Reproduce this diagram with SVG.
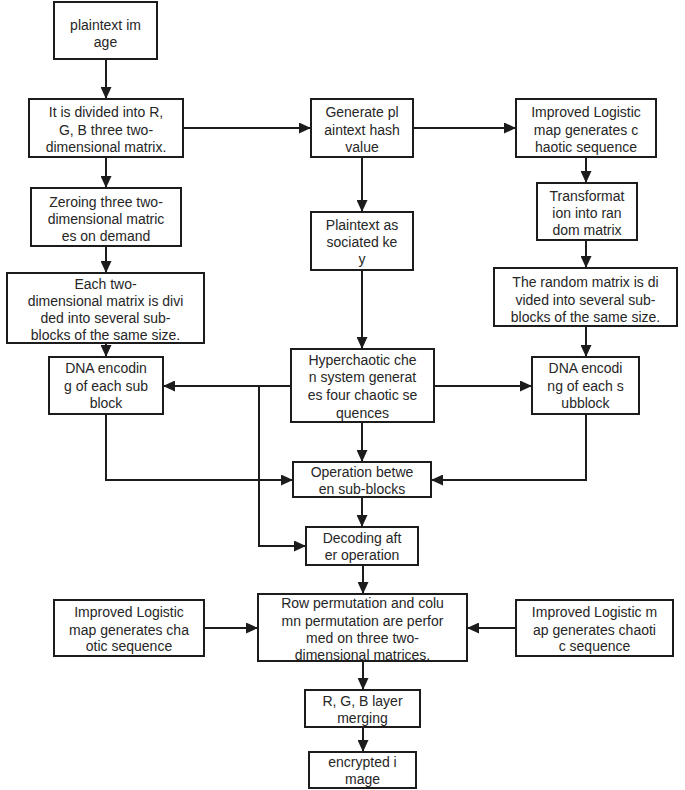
<svg xmlns="http://www.w3.org/2000/svg" width="685" height="790" viewBox="0 0 685 790">
<style>
.box{fill:#fff;stroke:#1c1c1c;stroke-width:2}
.t{font-family:"Liberation Sans","Noto Sans",Arial,sans-serif;font-size:14px;fill:#262626;text-anchor:middle}
.c{fill:none;stroke:#1c1c1c;stroke-width:2}
</style>
<defs>
<marker id="ah" markerWidth="12" markerHeight="11" refX="12" refY="5.5" orient="auto" markerUnits="userSpaceOnUse">
<path d="M0,0 L12,5.5 L0,11 z" fill="#1c1c1c"/>
</marker>
</defs>
<rect width="685" height="790" fill="#fff"/>
<g id="connectors">
<path class="c" d="M106,59 V99" marker-end="url(#ah)"/>
<path class="c" d="M106,157 V188" marker-end="url(#ah)"/>
<path class="c" d="M183,128 H311" marker-end="url(#ah)"/>
<path class="c" d="M413,128 H516" marker-end="url(#ah)"/>
<path class="c" d="M362,157 V212" marker-end="url(#ah)"/>
<path class="c" d="M586,157 V183" marker-end="url(#ah)"/>
<path class="c" d="M586,240 V268" marker-end="url(#ah)"/>
<path class="c" d="M106,246 V273" marker-end="url(#ah)"/>
<path class="c" d="M106,343 V357" marker-end="url(#ah)"/>
<path class="c" d="M362,270 V349" marker-end="url(#ah)"/>
<path class="c" d="M586,326 V357" marker-end="url(#ah)"/>
<path class="c" d="M291,386 H163" marker-end="url(#ah)"/>
<path class="c" d="M434,386 H532" marker-end="url(#ah)"/>
<path class="c" d="M259,386 V546 H306" marker-end="url(#ah)"/>
<path class="c" d="M106,414 V480 H293" marker-end="url(#ah)"/>
<path class="c" d="M586,414 V480 H431" marker-end="url(#ah)"/>
<path class="c" d="M362,422 V462" marker-end="url(#ah)"/>
<path class="c" d="M362,497 V527" marker-end="url(#ah)"/>
<path class="c" d="M363,565 V594" marker-end="url(#ah)"/>
<path class="c" d="M204,628 H258" marker-end="url(#ah)"/>
<path class="c" d="M516,628 H467" marker-end="url(#ah)"/>
<path class="c" d="M363,661 V690" marker-end="url(#ah)"/>
<path class="c" d="M363,727 V752" marker-end="url(#ah)"/>
</g>
<g id="n1"><rect class="box" x="54" y="2" width="103" height="57"/>
<text class="t"><tspan x="105.5" y="30">plaintext im</tspan><tspan x="105.5" y="47">age</tspan></text></g>
<g id="n2"><rect class="box" x="29" y="99" width="154" height="58"/>
<text class="t"><tspan x="106" y="117">It is divided into R,</tspan><tspan x="106" y="135">G, B three two-</tspan><tspan x="106" y="152">dimensional matrix.</tspan></text></g>
<g id="n3"><rect class="box" x="311" y="99" width="102" height="58"/>
<text class="t"><tspan x="362" y="117">Generate pl</tspan><tspan x="362" y="135">aintext hash</tspan><tspan x="362" y="152">value</tspan></text></g>
<g id="n4"><rect class="box" x="516" y="99" width="140" height="58"/>
<text class="t"><tspan x="586" y="117">Improved Logistic</tspan><tspan x="586" y="135">map generates c</tspan><tspan x="586" y="152">haotic sequence</tspan></text></g>
<g id="n5"><rect class="box" x="31" y="188" width="150" height="58"/>
<text class="t"><tspan x="106" y="207">Zeroing three two-</tspan><tspan x="106" y="224">dimensional matric</tspan><tspan x="106" y="241">es on demand</tspan></text></g>
<g id="n6"><rect class="box" x="311" y="212" width="102" height="58"/>
<text class="t"><tspan x="362" y="230">Plaintext as</tspan><tspan x="362" y="247">sociated ke</tspan><tspan x="362" y="264">y</tspan></text></g>
<g id="n7"><rect class="box" x="537" y="183" width="100" height="57"/>
<text class="t"><tspan x="587" y="201">Transformat</tspan><tspan x="587" y="218">ion into ran</tspan><tspan x="587" y="235">dom matrix</tspan></text></g>
<g id="n8"><rect class="box" x="7" y="273" width="197" height="70"/>
<text class="t"><tspan x="105.5" y="289">Each two-</tspan><tspan x="105.5" y="306">dimensional matrix is divi</tspan><tspan x="105.5" y="323">ded into several sub-</tspan><tspan x="105.5" y="340">blocks of the same size.</tspan></text></g>
<g id="n9"><rect class="box" x="494" y="268" width="183" height="58"/>
<text class="t"><tspan x="585.5" y="287">The random matrix is di</tspan><tspan x="585.5" y="305">vided into several sub-</tspan><tspan x="585.5" y="322">blocks of the same size.</tspan></text></g>
<g id="n10"><rect class="box" x="49" y="357" width="114" height="57"/>
<text class="t"><tspan x="106" y="373">DNA encodin</tspan><tspan x="106" y="391">g of each sub</tspan><tspan x="106" y="408">block</tspan></text></g>
<g id="n11"><rect class="box" x="291" y="349" width="143" height="73"/>
<text class="t"><tspan x="362.5" y="365">Hyperchaotic che</tspan><tspan x="362.5" y="382">n system generat</tspan><tspan x="362.5" y="400">es four chaotic se</tspan><tspan x="362.5" y="418">quences</tspan></text></g>
<g id="n12"><rect class="box" x="532" y="357" width="107" height="57"/>
<text class="t"><tspan x="585.5" y="373">DNA encodi</tspan><tspan x="585.5" y="391">ng of each s</tspan><tspan x="585.5" y="408">ubblock</tspan></text></g>
<g id="n13"><rect class="box" x="293" y="462" width="138" height="35"/>
<text class="t"><tspan x="362" y="477">Operation betwe</tspan><tspan x="362" y="494">en sub-blocks</tspan></text></g>
<g id="n14"><rect class="box" x="306" y="527" width="112" height="38"/>
<text class="t"><tspan x="362" y="543">Decoding aft</tspan><tspan x="362" y="560">er operation</tspan></text></g>
<g id="n15"><rect class="box" x="258" y="594" width="209" height="67"/>
<text class="t"><tspan x="362.5" y="608">Row permutation and colu</tspan><tspan x="362.5" y="626">mn permutation are perfor</tspan><tspan x="362.5" y="643">med on three two-</tspan><tspan x="362.5" y="660">dimensional matrices.</tspan></text></g>
<g id="n16"><rect class="box" x="54" y="600" width="150" height="56"/>
<text class="t"><tspan x="129" y="617">Improved Logistic</tspan><tspan x="129" y="635">map generates cha</tspan><tspan x="129" y="651">otic sequence</tspan></text></g>
<g id="n17"><rect class="box" x="516" y="600" width="157" height="56"/>
<text class="t"><tspan x="594.5" y="617">Improved Logistic m</tspan><tspan x="594.5" y="635">ap generates chaoti</tspan><tspan x="594.5" y="651">c sequence</tspan></text></g>
<g id="n18"><rect class="box" x="305" y="690" width="115" height="37"/>
<text class="t"><tspan x="362.5" y="706">R, G, B layer</tspan><tspan x="362.5" y="723">merging</tspan></text></g>
<g id="n19"><rect class="box" x="309" y="752" width="107" height="36"/>
<text class="t"><tspan x="362.5" y="767">encrypted i</tspan><tspan x="362.5" y="784">mage</tspan></text></g>
</svg>
